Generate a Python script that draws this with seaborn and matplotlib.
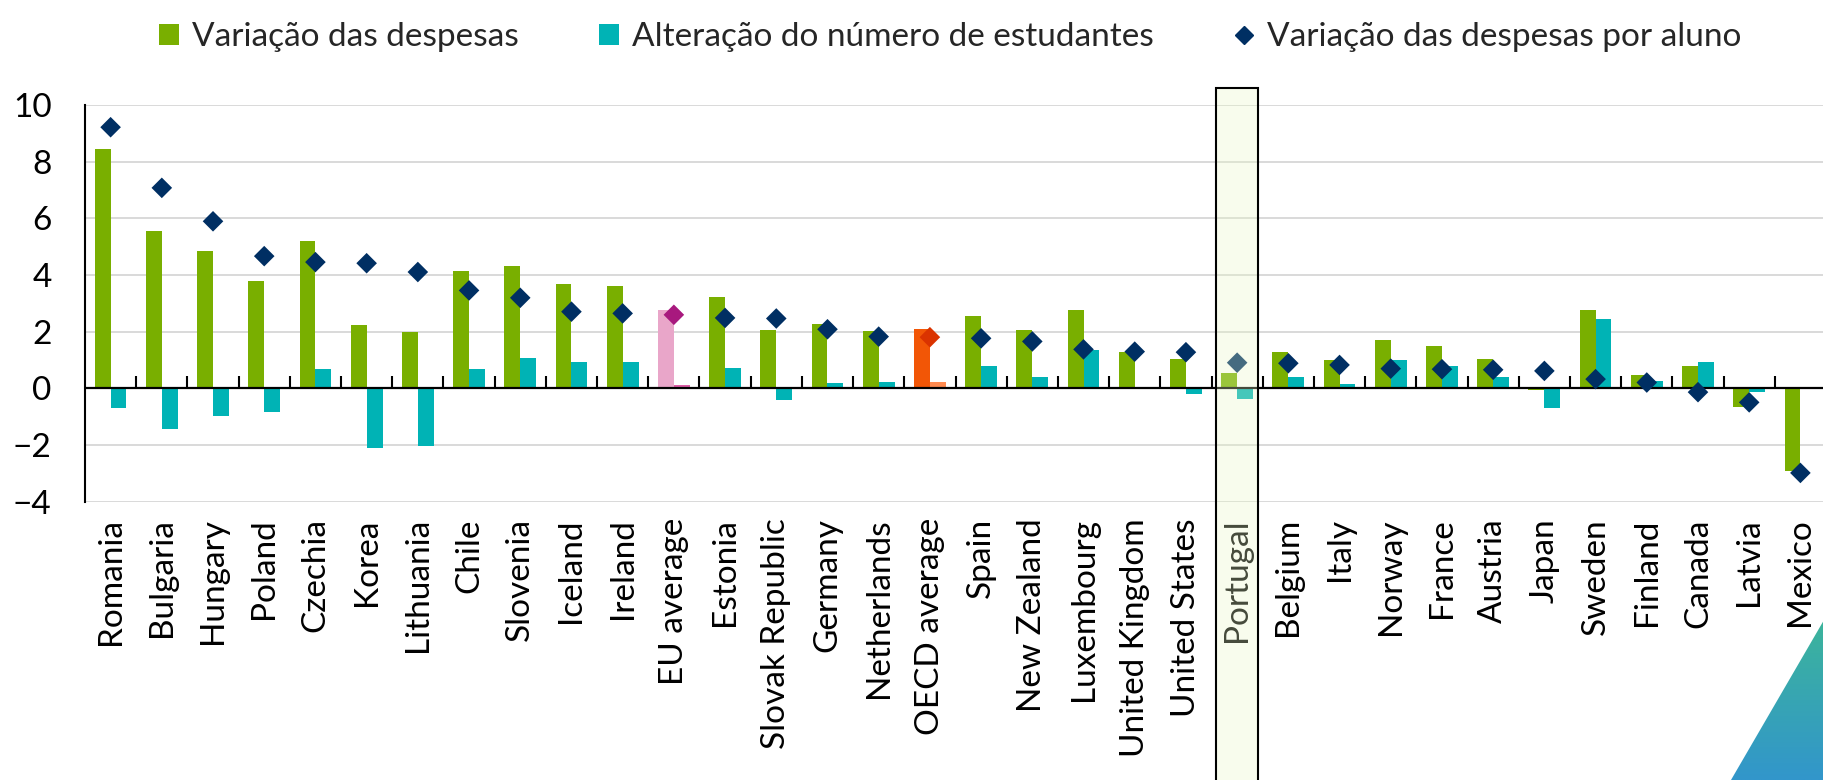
import numpy as np
import pandas as pd
import seaborn as sns
import matplotlib.pyplot as plt
from matplotlib.patches import Rectangle, Patch, Polygon
from matplotlib.lines import Line2D
from matplotlib.colors import LinearSegmentedColormap

# -----------------------------
# DATA
# -----------------------------
countries = [
    "Romania", "Bulgaria", "Hungary", "Poland", "Czechia", "Korea", "Lithuania",
    "Chile", "Slovenia", "Iceland", "Ireland", "EU average", "Estonia",
    "Slovak Republic", "Germany", "Netherlands", "OECD average", "Spain",
    "New Zealand", "Luxembourg", "United Kingdom", "United States", "Portugal",
    "Belgium", "Italy", "Norway", "France", "Austria", "Japan", "Sweden",
    "Finland", "Canada", "Latvia", "Mexico",
]
spending = [8.45, 5.54, 4.85, 3.78, 5.20, 2.22, 2.00, 4.15, 4.31, 3.66, 3.61,
            2.76, 3.22, 2.04, 2.25, 2.03, 2.09, 2.56, 2.05, 2.76, 1.29, 1.03,
            0.53, 1.27, 1.00, 1.69, 1.49, 1.03, -0.08, 2.76, 0.47, 0.79, -0.65,
            -2.93]
students = [-0.70, -1.43, -0.97, -0.85, 0.69, -2.12, -2.03, 0.66, 1.08, 0.94,
            0.94, 0.12, 0.72, -0.41, 0.19, 0.21, 0.22, 0.79, 0.40, 1.35, 0.00,
            -0.22, -0.38, 0.39, 0.15, 0.99, 0.79, 0.39, -0.70, 2.44, 0.27, 0.92,
            -0.14, 0.03]
per_student = [9.21, 7.07, 5.89, 4.66, 4.45, 4.41, 4.10, 3.45, 3.19, 2.70, 2.64,
               2.59, 2.48, 2.46, 2.08, 1.82, 1.80, 1.76, 1.65, 1.37, 1.29, 1.27,
               0.90, 0.88, 0.82, 0.69, 0.67, 0.65, 0.61, 0.32, 0.20, -0.14, -0.50,
               -2.99]

series_names = ["Variação das despesas", "Alteração do número de estudantes",
                "Variação das despesas por aluno"]
highlight = "Portugal"

GREEN = "#79AF00"
TEAL = "#00B3B5"
NAVY = "#002F63"
# bar, small bar, diamond colours for the averages
special = {
    "EU average": ("#E9A6C9", "#DC5EA6", "#A8197E"),
    "OECD average": ("#F25606", "#FF8A4F", "#DA3300"),
}

sns.set_style("white")
plt.rcParams["font.family"] = ["Lato", "DejaVu Sans"]

df = pd.DataFrame({
    "country": countries * 2,
    "value": spending + students,
    "series": [series_names[0]] * len(countries) + [series_names[1]] * len(countries),
})

fig = plt.figure(figsize=(18.24, 7.8), dpi=100)
ax = fig.add_axes([0.0466, 0.357, 0.9545, 0.5086])

# -----------------------------
# BARS
# -----------------------------
sns.barplot(data=df, x="country", y="value", hue="series", order=countries,
            hue_order=series_names[:2], palette=[GREEN, TEAL], saturation=1,
            width=0.62, gap=0, linewidth=0, errorbar=None, legend=False, ax=ax)

for name, (c1, c2, _) in special.items():
    i = countries.index(name)
    ax.containers[0][i].set_facecolor(c1)
    ax.containers[1][i].set_facecolor(c2)

# -----------------------------
# DIAMONDS
# -----------------------------
pos = np.arange(len(countries))
marker_colors = {c: special[c][2] if c in special else NAVY for c in countries}
sns.scatterplot(x=pos, y=per_student, hue=countries, palette=marker_colors,
                marker="D", s=110, linewidth=0, legend=False, ax=ax, zorder=4)

# -----------------------------
# AXES STYLE
# -----------------------------
ax.set_xlim(-0.5, len(countries) - 0.5)
ax.set_ylim(-4, 10)
ax.set_yticks(range(-4, 11, 2))
ax.set_xticks(pos)
ax.set_xticklabels(countries, rotation=90, va="top", ha="center")
ax.set_xlabel("")
ax.set_ylabel("")

ax.yaxis.grid(True, color="#D9D9D9", linewidth=1.4)
ax.set_axisbelow(True)
for side in ["top", "right", "bottom"]:
    ax.spines[side].set_visible(False)
ax.spines["left"].set_color("black")
ax.spines["left"].set_linewidth(1.5)

ax.tick_params(axis="y", direction="in", length=9, width=1.5, pad=24,
               labelsize=24, colors="black")
ax.tick_params(axis="x", length=0, pad=12, labelsize=24, colors="black")

# zero line with category separators
ax.axhline(0, color="black", linewidth=1.6, zorder=3)
ax.vlines(pos[:-1] + 0.5, 0, 0.42, color="black", linewidth=1.5, zorder=3)

# highlight box for Portugal
hi = countries.index(highlight)
ax.add_patch(Rectangle((hi - 0.41, -15), 0.82, 25.6,
                       facecolor=(232 / 255, 248 / 255, 198 / 255, 0.3),
                       edgecolor="black", linewidth=1.5, clip_on=False, zorder=6))

# -----------------------------
# LEGEND
# -----------------------------
handles = [
    Patch(facecolor=GREEN, edgecolor="none"),
    Patch(facecolor=TEAL, edgecolor="none"),
    Line2D([], [], marker="D", color=NAVY, linestyle="none", markersize=9),
]
fig.legend(handles, series_names, loc="upper center", bbox_to_anchor=(0.521, 1.01),
           ncol=3, frameon=False, fontsize=24, handlelength=0.6, handleheight=0.6,
           handletextpad=0.4, columnspacing=2.4)

# corner decoration
corner = fig.add_axes([1731 / 1824, 0, 93 / 1824, 160 / 780])
corner.axis("off")
grad = LinearSegmentedColormap.from_list("corner", ["#3296CB", "#3CB49B"])
img = corner.imshow(np.linspace(0, 1, 100)[::-1, None], cmap=grad, aspect="auto",
                    extent=(0, 1, 0, 1))
tri = Polygon([(0, 0), (1, 1), (1, 0)], transform=corner.transAxes)
img.set_clip_path(tri)

fig.savefig("out.png", dpi=100)
